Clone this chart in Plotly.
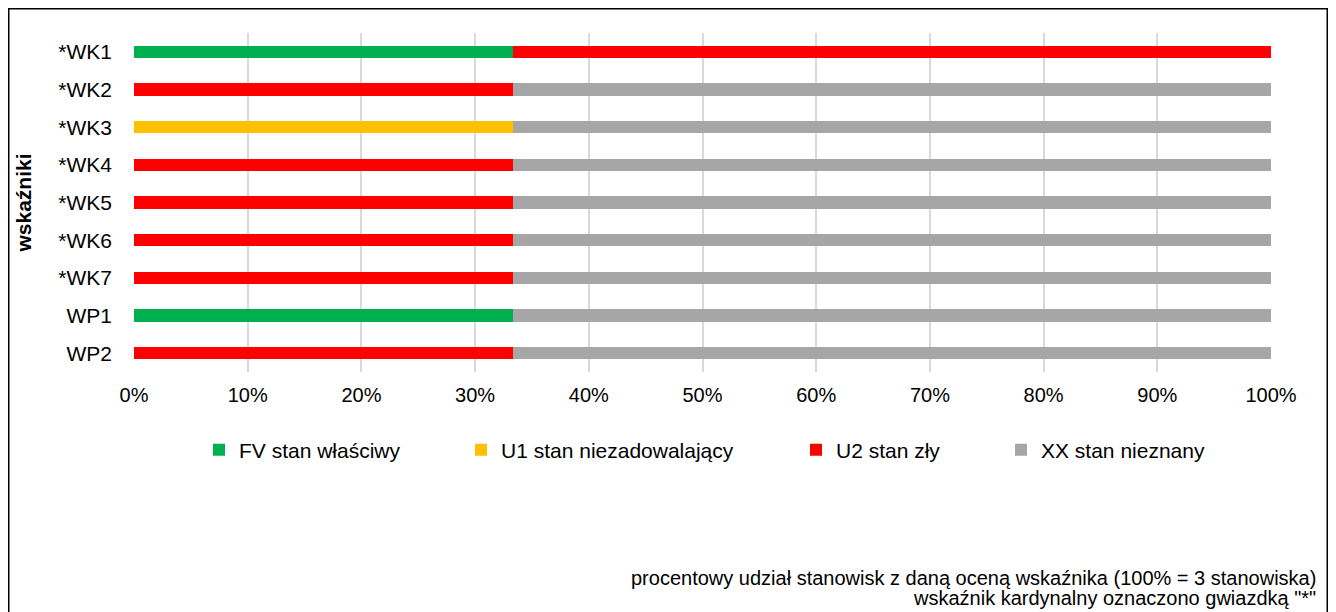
import plotly.graph_objects as go

categories = ["*WK1", "*WK2", "*WK3", "*WK4", "*WK5", "*WK6", "*WK7", "WP1", "WP2"]
total_sites = 3
fv_counts = [1, 0, 0, 0, 0, 0, 0, 1, 0]
u1_counts = [0, 0, 1, 0, 0, 0, 0, 0, 0]
u2_counts = [2, 1, 0, 1, 1, 1, 1, 0, 1]
xx_counts = [0, 2, 2, 2, 2, 2, 2, 2, 2]

series_names = ["FV stan właściwy", "U1 stan niezadowalający", "U2 stan zły", "XX stan nieznany"]
series_colors = ["#00B050", "#FFC000", "#FF0000", "#A6A6A6"]
series_counts = [fv_counts, u1_counts, u2_counts, xx_counts]

x_ticks = [i / 10 for i in range(11)]
x_tick_labels = [f"{i*10}%" for i in range(11)]

# figure geometry (page adds an 8px body margin)
W, H = 1320, 604
ML, MR, MT, MB = 126, 57, 25, 240
PW, PH = W - ML - MR, H - MT - MB

def px_to_x(px):
    return (px - ML) / PW

def py_to_y(py):
    return (H - MB - py) / PH

FONT = "Liberation Sans, Arial, sans-serif"

# legend symbol left edges (figure pixels)
legend_sym_px = [210, 472, 807, 1012]
legend_keys = ["legend", "legend2", "legend3", "legend4"]

fig = go.Figure()
for name, color, counts, lk in zip(series_names, series_colors, series_counts, legend_keys):
    fig.add_trace(go.Bar(
        y=categories,
        x=[c / total_sites for c in counts],
        orientation="h",
        name=name,
        marker=dict(color=color, line=dict(width=0)),
        width=0.32,
        legend=lk,
        hoverinfo="skip",
    ))

layout_legends = {}
for lk, px in zip(legend_keys, legend_sym_px):
    layout_legends[lk] = dict(
        x=px_to_x(px - 19), xanchor="left",
        y=py_to_y(442), yanchor="middle",
        orientation="h",
        font=dict(family=FONT, size=21, color="#000000"),
        bgcolor="rgba(0,0,0,0)",
        borderwidth=0,
        itemwidth=30,
        traceorder="normal",
    )

fig.update_layout(
    width=W, height=H,
    margin=dict(l=ML, r=MR, t=MT, b=MB, pad=0),
    paper_bgcolor="white", plot_bgcolor="white",
    barmode="stack",
    bargap=0,
    showlegend=True,
    font=dict(family=FONT, size=20, color="#000000"),
    xaxis=dict(
        range=[0, 1],
        tickvals=x_ticks, ticktext=x_tick_labels,
        showgrid=True, gridcolor="#D9D9D9", gridwidth=1.5,
        zeroline=False, showline=False, ticks="",
        tickfont=dict(family=FONT, size=20, color="#000000"),
        ticklabelstandoff=9,
        fixedrange=True,
    ),
    yaxis=dict(
        categoryorder="array", categoryarray=categories,
        autorange="reversed",
        showgrid=False, zeroline=False, showline=False, ticks="",
        tickfont=dict(family=FONT, size=21, color="#000000"),
        ticklabelstandoff=21,
        title=dict(text="<b>wskaźniki</b>", font=dict(family=FONT, size=21, color="#000000"), standoff=20),
        fixedrange=True,
    ),
    **layout_legends,
)

# outer chart border
fig.add_shape(type="rect", xref="paper", yref="paper",
              x0=px_to_x(0.5), x1=px_to_x(W - 0.5), y0=py_to_y(H + 10), y1=py_to_y(0.5),
              line=dict(color="#000000", width=2), fillcolor="rgba(0,0,0,0)", layer="above")

footnotes = [
    "procentowy udział stanowisk z daną oceną wskaźnika (100% = 3 stanowiska)",
    "wskaźnik kardynalny oznaczono gwiazdką \"*\"",
]
footnote_py = [570, 590]
for txt, py in zip(footnotes, footnote_py):
    fig.add_annotation(
        xref="paper", yref="paper", x=px_to_x(1310), y=py_to_y(py),
        xanchor="right", yanchor="middle", showarrow=False, align="right",
        text=txt,
        font=dict(family=FONT, size=20, color="#000000"),
    )

fig.write_html("out.html")
